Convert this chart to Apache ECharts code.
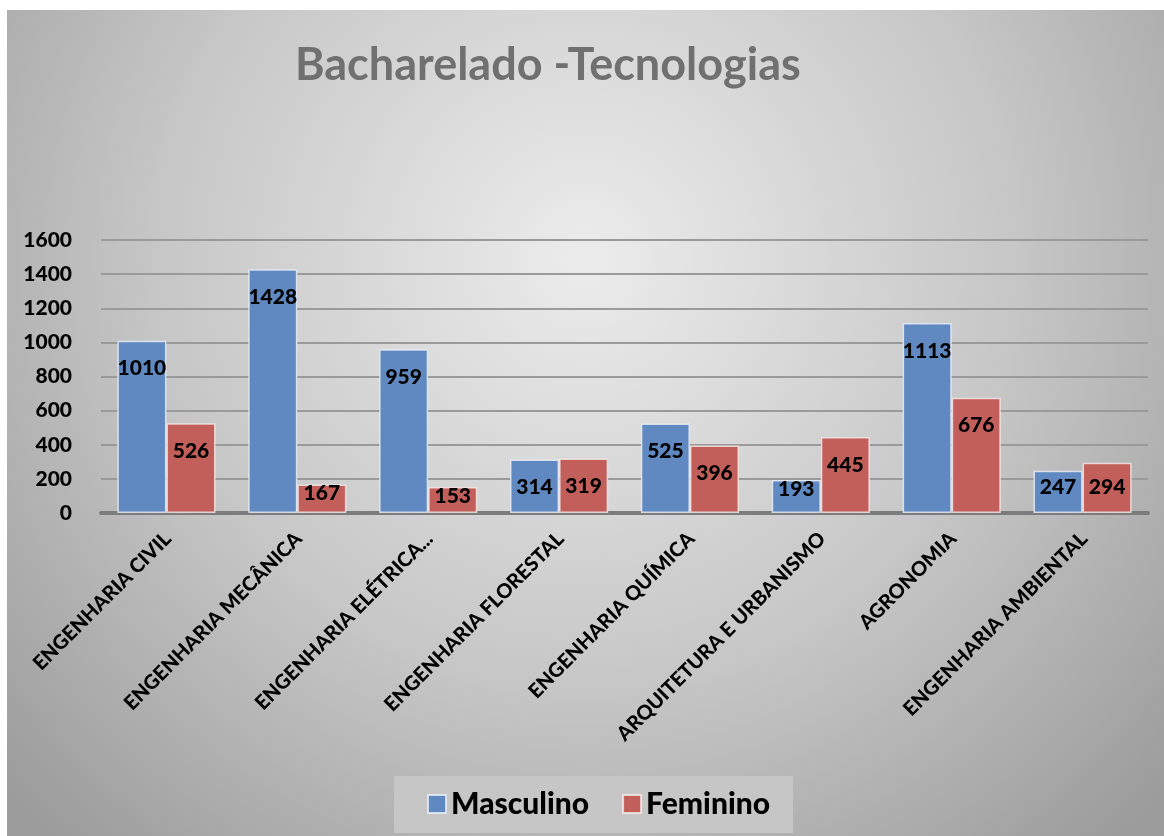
<!DOCTYPE html>
<html>
<head>
<meta charset="utf-8">
<script src="https://cdn.jsdelivr.net/npm/echarts@6/dist/echarts.min.js"></script>
<style>
  html, body { margin: 0; padding: 0; background: #fff; }
  #container { position: absolute; left: 7px; top: 10px; width: 1157px; height: 826px; }
</style>
</head>
<body>
<div id="container"></div>
<script>
// dados
var cursos = ['ENGENHARIA CIVIL', 'ENGENHARIA MECÂNICA', 'ENGENHARIA ELÉTRICA...', 'ENGENHARIA FLORESTAL',
              'ENGENHARIA QUÍMICA', 'ARQUITETURA E URBANISMO', 'AGRONOMIA', 'ENGENHARIA AMBIENTAL'];
var masculino = [1010, 1428, 959, 314, 525, 193, 1113, 247];
var feminino  = [526, 167, 153, 319, 396, 445, 676, 294];

var dom = document.getElementById('container');
var myChart = echarts.init(dom);
var font = 'Lato, "Open Sans", sans-serif';

var gridTop = 230, gridBottom = 323, yMax = 1600;
var pxPerUnit = (dom.clientHeight - gridTop - gridBottom) / yMax;

// rótulo dentro da barra, perto do topo; em barras curtas sobe menos
function comRotulo(arr) {
    return arr.map(function (v) {
        var h = v * pxPerUnit;
        var off = Math.max(9, Math.min(28, h - 26));
        return { value: v, label: { distance: off - 11 } };
    });
}

var barLabel = {
    show: true,
    position: 'insideTop',
    color: '#000',
    fontFamily: font,
    fontWeight: 900,
    fontSize: 21,
    lineHeight: 22
};

var option = {
    backgroundColor: {
        type: 'radial', x: 0.5, y: 0.3, r: 0.95,
        colorStops: [
            { offset: 0, color: '#ececec' },
            { offset: 0.55, color: '#c6c6c6' },
            { offset: 1, color: '#9c9c9c' }
        ]
    },
    animation: false,
    title: {
        text: 'Bacharelado -Tecnologias',
        left: 283,
        top: 28,
        textStyle: { color: '#707070', fontFamily: font, fontWeight: 'bold', fontSize: 45 }
    },
    legend: {
        data: ['Masculino', 'Feminino'],
        left: 387,
        top: 766,
        padding: [13, 23, 14, 33],
        backgroundColor: '#c6c6c6',
        icon: 'rect',
        itemWidth: 18,
        itemHeight: 18,
        itemGap: 33,
        textStyle: { color: '#000', fontFamily: font, fontWeight: 900, fontSize: 30 }
    },
    grid: { left: 94, right: 16, top: gridTop, bottom: gridBottom },
    xAxis: {
        type: 'category',
        data: cursos,
        axisLine: { lineStyle: { color: '#7c7c7c', width: 4 } },
        axisTick: { show: false },
        axisLabel: {
            interval: 0,
            rotate: 45,
            margin: 24,
            padding: [0, -2, 0, 0],
            color: '#000',
            fontFamily: font,
            fontWeight: 900,
            fontSize: 20
        }
    },
    yAxis: {
        type: 'value',
        min: 0,
        max: yMax,
        interval: 200,
        axisLine: { show: false },
        axisTick: { show: false },
        axisLabel: {
            margin: 29, color: '#000', fontFamily: font, fontWeight: 900, fontSize: 21,
            formatter: function (v) { return String(v); }
        },
        splitLine: { lineStyle: { color: '#9a9a9a', width: 2 } }
    },
    series: [
        {
            name: 'Masculino',
            type: 'bar',
            data: comRotulo(masculino),
            barGap: '0%',
            barCategoryGap: '25%',
            itemStyle: { color: '#5f89c0', borderColor: 'rgba(235,240,248,0.8)', borderWidth: 1.5 },
            label: barLabel
        },
        {
            name: 'Feminino',
            type: 'bar',
            data: comRotulo(feminino),
            itemStyle: { color: '#c25f5b', borderColor: 'rgba(248,235,235,0.8)', borderWidth: 1.5 },
            label: barLabel
        }
    ]
};

myChart.setOption(option);
</script>
</body>
</html>
